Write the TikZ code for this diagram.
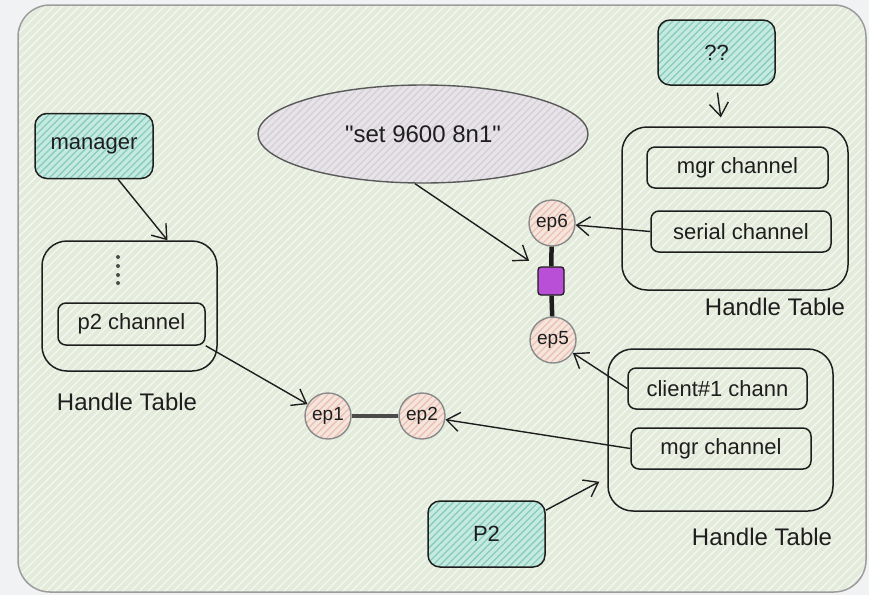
\documentclass[tikz,border=0pt]{standalone}
\usepackage{fontspec}
\setmainfont{Liberation Sans}[Ligatures=TeXOff]
\usetikzlibrary{arrows.meta,patterns.meta,shapes.geometric}
\definecolor{ink}{HTML}{1E1E1E}
\definecolor{pagebg}{HTML}{F1F2F4}
\definecolor{framegray}{HTML}{9C9C9C}
\definecolor{greenbg}{HTML}{E3ECDB}
\definecolor{greenln}{HTML}{F5F8F2}
\definecolor{tealbg}{HTML}{C6E9E0}
\definecolor{tealln}{HTML}{86CDBC}
\definecolor{epbg}{HTML}{F4E5DD}
\definecolor{epln}{HTML}{EDC0B2}
\definecolor{ellbg}{HTML}{E7E4E8}
\definecolor{ellln}{HTML}{D6CED9}
\definecolor{epring}{HTML}{8A8A8A}
\definecolor{purp}{HTML}{B94FD6}
\tikzset{
  % hatched fill painted underneath the outline
  hatched/.style n args={3}{preaction={fill=#1},
      preaction={pattern={Lines[angle=45,distance=#3,line width=1.3pt]}, pattern color=#2}},
  txt/.style={font=\fontsize{22}{26}\selectfont, text=ink},
  bigtxt/.style={font=\fontsize{24}{28}\selectfont, text=ink},
  tealbox/.style={draw=ink, line width=1.5pt, hatched={tealbg}{tealln}{5pt},
      rounded corners=12pt, minimum width=#1, minimum height=65pt, inner sep=0pt, txt},
  table/.style 2 args={draw=ink, line width=1.5pt, rounded corners=25pt,
      minimum width=#1, minimum height=#2, inner sep=0pt},
  chan/.style={draw=ink, line width=1.5pt, rounded corners=8pt,
      minimum width=#1, minimum height=41pt, inner sep=0pt, txt},
  endpt/.style={circle, draw=epring, line width=1.4pt, hatched={epbg}{epln}{5pt},
      minimum size=46pt, inner sep=0pt, font=\fontsize{19}{22}\selectfont, text=ink},
  arr/.style={draw=ink, line width=1.4pt, -{Straight Barb[length=13pt,width=19pt]}},
  link/.style={draw=ink, line width=4.5pt},
}
\begin{document}
\begin{tikzpicture}[x=1pt,y=-1pt]
\useasboundingbox (0,0) rectangle (869,595);
\fill[pagebg] (0,0) rectangle (869,595);
% frame with hatched green fill
\path[draw=framegray, line width=1.5pt, rounded corners=32pt,
      hatched={greenbg}{greenln}{6pt}] (18,5) rectangle (866,592);

% actors
\node[tealbox=118pt] (manager) at (94,146) {manager};
\node[tealbox=117pt] (qq) at (716.5,52.5) {??};
\node[tealbox=117pt, minimum height=66pt] (p2) at (486.5,534) {P2};

% left handle table
\node[table={175pt}{130pt}] (lht) at (129.5,306) {};
\node[chan=147pt, minimum height=42pt] (p2ch) at (131.5,324) {p2 channel};
\foreach \yy in {257,266,275,283} \fill[ink!80] (118,\yy) circle (2pt);
\node[bigtxt] (lbl1) at (127,402) {Handle Table};

% upper right handle table
\node[table={226pt}{163pt}] (rht) at (735,208.5) {};
\node[chan=181pt] (mgr1) at (737.5,167.5) {mgr channel};
\node[chan=180pt] (serial) at (741,231.5) {serial channel};
\node[bigtxt] (lbl2) at (775,307) {Handle Table};

% lower right handle table
\node[table={225pt}{162pt}] (rbt) at (720.5,430) {};
\node[chan=179pt] (client) at (717.5,388.5) {client\#1 chann};
\node[chan=180pt] (mgr2) at (721,448.5) {mgr channel};
\node[bigtxt] (lbl3) at (762,537) {Handle Table};

% message bubble
\node[ellipse, draw=gray!70!black, line width=1.4pt, hatched={ellbg}{ellln}{5pt},
      minimum width=330pt, minimum height=98pt, inner sep=0pt, bigtxt] (ell) at (423,134)
      {"set 9600 8n1"};

% endpoints and the serial object
\node[endpt] (ep1) at (328,416) {ep1};
\node[endpt] (ep2) at (422,416) {ep2};
\node[endpt] (ep6) at (552,223) {ep6};
\node[endpt] (ep5) at (553,340) {ep5};
\node[draw=ink, line width=1.3pt, fill=purp, rounded corners=3pt,
      minimum width=26pt, minimum height=28pt, inner sep=0pt] (sq) at (551,281) {};

% links
\draw[link, draw=ink!80] (ep1) -- (ep2);
\draw[link] (ep6) -- (sq);
\draw[link] (sq) -- (ep5);

% arrows
\draw[arr] ([xshift=24pt]manager.south) -- ([xshift=38pt]lht.north);
\draw[arr] (p2ch.south east) -- (ep1);
\draw[arr, shorten >=10pt] ([xshift=-8pt]ell.south) -- (sq.north west);
\draw[arr, shorten <=7pt, shorten >=9pt] (qq.south) -- ([xshift=-13pt]rht.north);
\draw[arr] (serial.west) -- (ep6);
\draw[arr] (client.west) -- (ep5);
\draw[arr] (mgr2.west) -- (ep2);
\draw[arr] ([yshift=-10pt]p2.north east) -- ([xshift=-8pt,yshift=30pt]rbt.south west);
\end{tikzpicture}
\end{document}
